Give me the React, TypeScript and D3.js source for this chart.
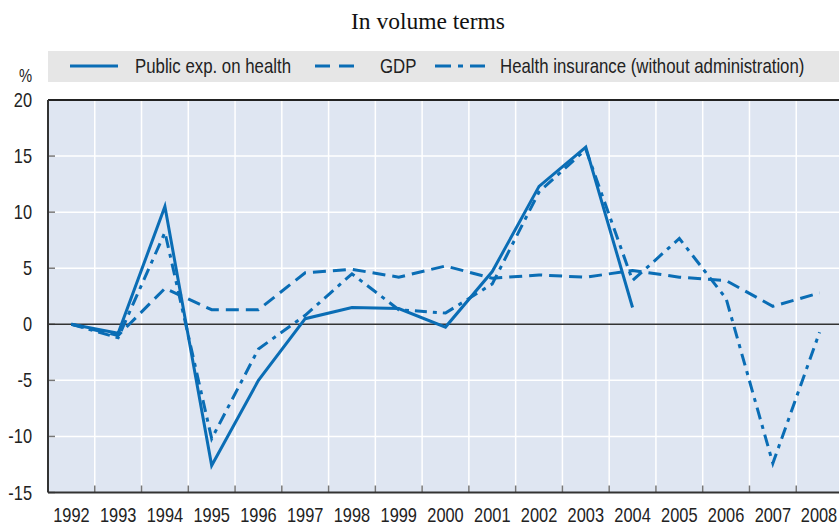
import React from "react";
import * as d3 from "d3";

const title = "In volume terms";
const years = ["1992","1993","1994","1995","1996","1997","1998","1999","2000","2001","2002","2003","2004","2005","2006","2007","2008"];
const publicExp: (number | null)[] = [0, -0.8, 10.5, -12.6, -5.0, 0.5, 1.5, 1.4, -0.25, 4.7, 12.3, 15.8, 1.5, null, null, null, null];
const gdp: (number | null)[] = [0, -1.0, 3.2, 1.3, 1.3, 4.6, 4.9, 4.2, 5.2, 4.1, 4.4, 4.2, 4.8, 4.2, 3.9, 1.6, 2.8];
const healthIns: (number | null)[] = [0, -1.2, 8.2, -10.2, -2.2, 0.8, 4.5, 1.3, 1.0, 3.6, 11.8, 15.6, 3.9, 7.65, 2.3, -12.4, -0.7];
const yTicks = [20, 15, 10, 5, 0, -5, -10, -15];
const seriesNames = ["Public exp. on health", "GDP", "Health insurance (without administration)"];

const W = 839, H = 525;
const left = 48, right = 843, top = 100, bottom = 492.5;
const color = "#0a6db5";
const font = "'Liberation Sans', Arial, sans-serif";
const SX = 0.82;

function NText(props: { x: number; y: number; anchor?: string; size: number; children: React.ReactNode; dy?: string }) {
  return (
    <text
      transform={`translate(${props.x},${props.y}) scale(${SX},1)`}
      textAnchor={props.anchor || "start"}
      dy={props.dy}
      fontFamily={font}
      fontSize={props.size}
      fill="#222"
    >
      {props.children}
    </text>
  );
}

export default function App() {
  const x = d3.scaleBand<string>().domain(years).range([left, right]).padding(0);
  const y = d3.scaleLinear().domain([-15, 20]).range([bottom, top]);
  const cx = (yr: string) => (x(yr) as number) + x.bandwidth() / 2;
  const line = d3
    .line<number | null>()
    .defined((d) => d !== null)
    .x((_, i) => cx(years[i]))
    .y((d) => y(d as number));

  const series = [
    { name: seriesNames[0], data: publicExp, dash: "none" },
    { name: seriesNames[1], data: gdp, dash: "13,7" },
    { name: seriesNames[2], data: healthIns, dash: "12,6,4,6" },
  ];

  const legendItems = [
    { x1: 70, x2: 118, tx: 135, dash: "none", name: seriesNames[0] },
    { x1: 315, x2: 358, tx: 380, dash: "15,9", name: seriesNames[1] },
    { x1: 435, x2: 485, tx: 500, dash: "16,7,5,7", name: seriesNames[2] },
  ];

  return (
    <svg width={W} height={H} style={{ position: "absolute", left: 0, top: 0, background: "#fff" }}>
      <text x={428} y={29} textAnchor="middle" fontFamily="'Liberation Serif', 'Times New Roman', serif" fontSize={23.5} fill="#111">
        {title}
      </text>
      {/* legend */}
      <rect x={48} y={51} width={W - 48} height={31} fill="#e6e6e6" />
      {legendItems.map((l, i) => (
        <g key={i}>
          <line x1={l.x1} x2={l.x2} y1={66} y2={66} stroke={color} strokeWidth={3} strokeDasharray={l.dash} />
          <NText x={l.tx} y={73} size={20.5}>{l.name}</NText>
        </g>
      ))}
      <NText x={32} y={82} anchor="end" size={18}>%</NText>

      {/* plot background */}
      <rect x={left} y={top} width={right - left} height={bottom - top} fill="#dfe6f2" />
      {/* vertical grid */}
      {years.slice(1).map((yr) => (
        <line key={yr} x1={x(yr)} x2={x(yr)} y1={top} y2={bottom} stroke="#fff" strokeWidth={1.5} />
      ))}
      {/* horizontal grid */}
      {yTicks.filter((t) => t !== 0 && t !== 20 && t !== -15).map((t) => (
        <line key={t} x1={left} x2={right} y1={y(t)} y2={y(t)} stroke="#fff" strokeWidth={1.5} />
      ))}
      {/* y tick marks */}
      {yTicks.map((t) => (
        <line key={"yt" + t} x1={left} x2={left + 7} y1={y(t)} y2={y(t)} stroke="#777" strokeWidth={1.5} />
      ))}
      {/* x tick marks */}
      {years.slice(1).map((yr) => (
        <line key={"xt" + yr} x1={x(yr)} x2={x(yr)} y1={bottom - 7} y2={bottom} stroke="#777" strokeWidth={1.5} />
      ))}
      {/* zero line */}
      <line x1={left} x2={right} y1={y(0)} y2={y(0)} stroke="#333" strokeWidth={1.5} />
      {/* frame */}
      <line x1={left} x2={right} y1={top} y2={top} stroke="#222" strokeWidth={2} />
      <line x1={left} x2={right} y1={bottom} y2={bottom} stroke="#333" strokeWidth={2} />
      <line x1={left} x2={left} y1={top} y2={bottom} stroke="#333" strokeWidth={2} />

      {/* series */}
      {series.map((s, i) => (
        <path key={i} d={line(s.data) || ""} fill="none" stroke={color} strokeWidth={3} strokeDasharray={s.dash} strokeLinejoin="miter" />
      ))}

      {/* y labels */}
      {yTicks.map((t) => (
        <NText key={"yl" + t} x={32} y={y(t)} dy="0.35em" anchor="end" size={20}>
          {t}
        </NText>
      ))}
      {/* x labels */}
      {years.map((yr) => (
        <NText key={"xl" + yr} x={Math.min(cx(yr), 819)} y={522} anchor="middle" size={20}>
          {yr}
        </NText>
      ))}
    </svg>
  );
}
